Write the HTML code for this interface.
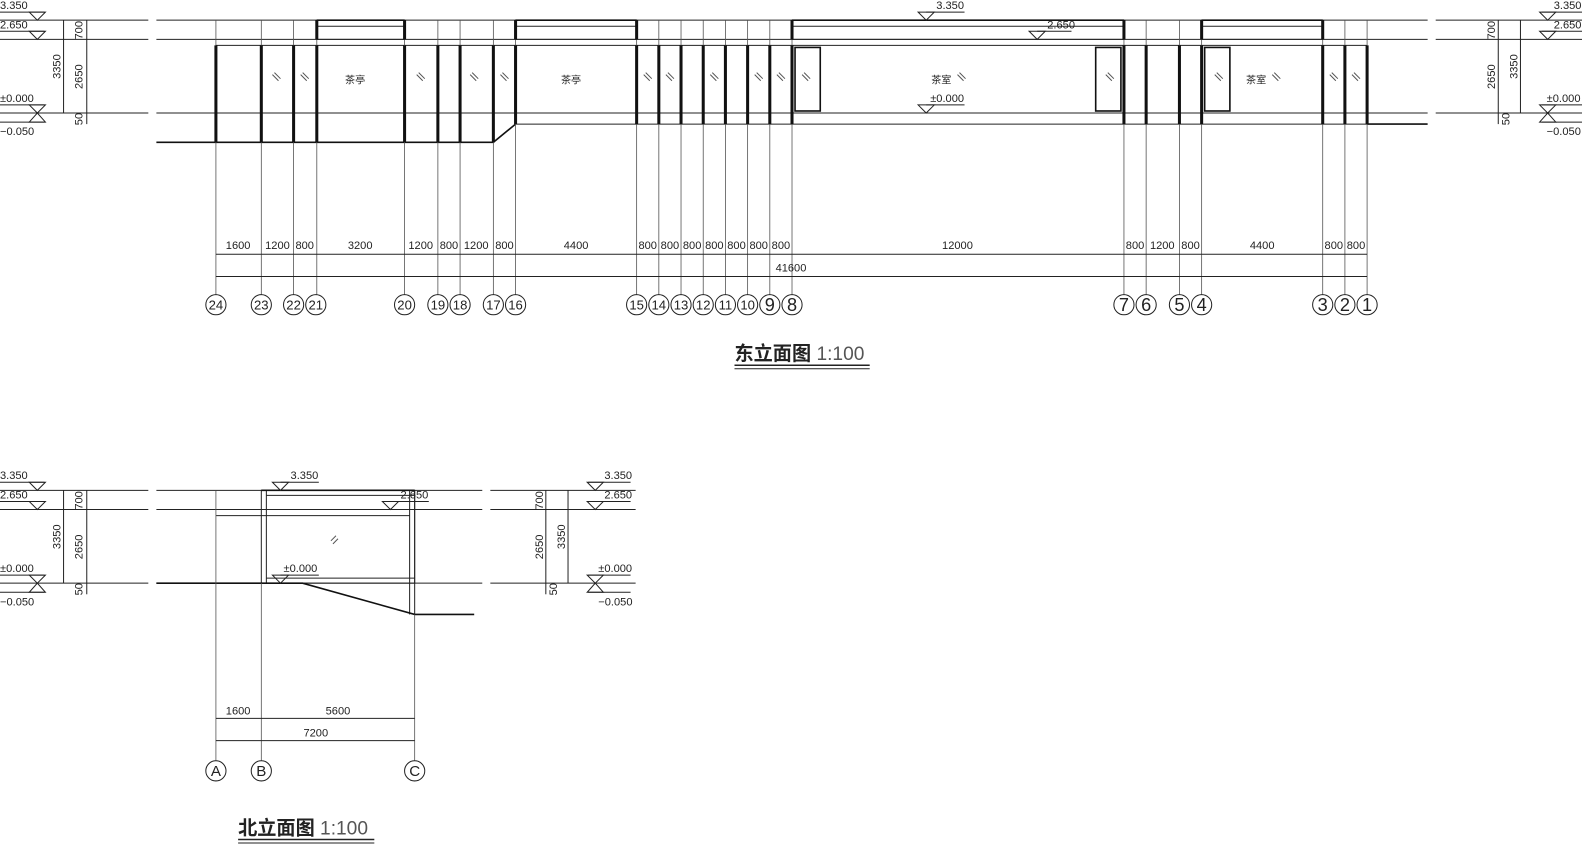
<!DOCTYPE html>
<html><head><meta charset="utf-8"><style>
html,body{margin:0;padding:0;background:#fff;}
svg{display:block}
text{font-family:"Liberation Sans Narrow","Liberation Sans","Noto Sans CJK SC",sans-serif;fill:#222}
.t{stroke:#222;stroke-width:1;fill:none}
.g{stroke:#555;stroke-width:0.8;fill:none}
.k{stroke:#111;stroke-width:3;fill:none}
.m{stroke:#111;stroke-width:1.6;fill:none}
.d{font-size:11px}
.h{stroke:#555;stroke-width:1}
</style></head><body>
<svg width="1582" height="844" viewBox="0 0 1568 836.5" preserveAspectRatio="none" xmlns="http://www.w3.org/2000/svg">
<g class="t">
<line x1="0" y1="20" x2="147" y2="20"/><line x1="155" y1="20" x2="1415" y2="20"/><line x1="1423" y1="20" x2="1568" y2="20"/>
<line x1="0" y1="39" x2="147" y2="39"/><line x1="155" y1="39" x2="1415" y2="39"/><line x1="1423" y1="39" x2="1568" y2="39"/>
<line x1="214" y1="45" x2="1355" y2="45"/>
<line x1="0" y1="112" x2="147" y2="112"/><line x1="155" y1="112" x2="1415" y2="112"/><line x1="1423" y1="112" x2="1568" y2="112"/>
<line x1="511" y1="123" x2="1355" y2="123"/>
</g>
<line class="m" x1="1355" y1="123" x2="1415" y2="123"/>
<polyline class="m" points="155,141 489,141 511,123"/>
<g class="g">
<line x1="214" y1="20" x2="214" y2="292"/><line x1="259" y1="20" x2="259" y2="292"/><line x1="291" y1="20" x2="291" y2="292"/><line x1="314" y1="20" x2="314" y2="292"/>
<line x1="401" y1="20" x2="401" y2="292"/><line x1="434" y1="20" x2="434" y2="292"/><line x1="456" y1="20" x2="456" y2="292"/><line x1="489" y1="20" x2="489" y2="292"/>
<line x1="511" y1="20" x2="511" y2="292"/><line x1="631" y1="20" x2="631" y2="292"/><line x1="653" y1="20" x2="653" y2="292"/><line x1="675" y1="20" x2="675" y2="292"/>
<line x1="697" y1="20" x2="697" y2="292"/><line x1="719" y1="20" x2="719" y2="292"/><line x1="741" y1="20" x2="741" y2="292"/><line x1="763" y1="20" x2="763" y2="292"/>
<line x1="785" y1="20" x2="785" y2="292"/><line x1="1114" y1="20" x2="1114" y2="292"/><line x1="1136" y1="20" x2="1136" y2="292"/><line x1="1169" y1="20" x2="1169" y2="292"/>
<line x1="1191" y1="20" x2="1191" y2="292"/><line x1="1311" y1="20" x2="1311" y2="292"/><line x1="1333" y1="20" x2="1333" y2="292"/><line x1="1355" y1="20" x2="1355" y2="292"/>
</g>
<g class="t">
<rect x="314" y="20" width="87" height="19"/><line x1="314" y1="26" x2="401" y2="26"/>
<rect x="511" y="20" width="120" height="19"/><line x1="511" y1="26" x2="631" y2="26"/>
<rect x="785" y="20" width="329" height="19"/><line x1="785" y1="26" x2="1114" y2="26"/>
<rect x="1191" y="20" width="120" height="19"/><line x1="1191" y1="26" x2="1311" y2="26"/>
</g>
<g class="m">
<line x1="314" y1="20" x2="401" y2="20"/><line x1="511" y1="20" x2="631" y2="20"/><line x1="785" y1="20" x2="1114" y2="20"/><line x1="1191" y1="20" x2="1311" y2="20"/></g>
<g class="k">
<line x1="314" y1="20" x2="314" y2="39"/><line x1="401" y1="20" x2="401" y2="39"/><line x1="511" y1="20" x2="511" y2="39"/><line x1="631" y1="20" x2="631" y2="39"/>
<line x1="785" y1="20" x2="785" y2="39"/><line x1="1114" y1="20" x2="1114" y2="39"/><line x1="1191" y1="20" x2="1191" y2="39"/><line x1="1311" y1="20" x2="1311" y2="39"/>
</g>
<g class="k">
<line x1="214" y1="45" x2="214" y2="141"/><line x1="259" y1="45" x2="259" y2="141"/><line x1="291" y1="45" x2="291" y2="141"/><line x1="314" y1="45" x2="314" y2="141"/>
<line x1="401" y1="45" x2="401" y2="141"/><line x1="434" y1="45" x2="434" y2="141"/><line x1="456" y1="45" x2="456" y2="141"/><line x1="489" y1="45" x2="489" y2="141"/>
<line x1="511" y1="45" x2="511" y2="123"/><line x1="631" y1="45" x2="631" y2="123"/><line x1="653" y1="45" x2="653" y2="123"/><line x1="675" y1="45" x2="675" y2="123"/>
<line x1="697" y1="45" x2="697" y2="123"/><line x1="719" y1="45" x2="719" y2="123"/><line x1="741" y1="45" x2="741" y2="123"/><line x1="763" y1="45" x2="763" y2="123"/>
<line x1="785" y1="45" x2="785" y2="123"/><line x1="1114" y1="45" x2="1114" y2="123"/><line x1="1136" y1="45" x2="1136" y2="123"/><line x1="1169" y1="45" x2="1169" y2="123"/>
<line x1="1191" y1="45" x2="1191" y2="123"/><line x1="1311" y1="45" x2="1311" y2="123"/><line x1="1333" y1="45" x2="1333" y2="123"/><line x1="1355" y1="45" x2="1355" y2="123"/>
</g>
<g class="m"><rect x="788" y="47" width="25" height="63"/><rect x="1086" y="47" width="25" height="63"/><rect x="1194" y="47" width="25" height="63"/></g>
<g class="h">
<path d="M270,74l6,6M272,72l6,6M298,74l6,6M300,72l6,6M413,74l6,6M415,72l6,6M466,74l6,6M468,72l6,6M496,74l6,6M498,72l6,6
M638,74l6,6M640,72l6,6M660,74l6,6M662,72l6,6M704,74l6,6M706,72l6,6M748,74l6,6M750,72l6,6M770,74l6,6M772,72l6,6M795,74l6,6M797,72l6,6
M949,74l6,6M951,72l6,6M1096,74l6,6M1098,72l6,6M1204,74l6,6M1206,72l6,6M1261,74l6,6M1263,72l6,6M1318,74l6,6M1320,72l6,6M1340,74l6,6M1342,72l6,6"/>
</g>
<g style="font-size:10px;fill:#444">
<text x="342" y="83">茶亭</text><text x="556" y="83">茶亭</text><text x="923" y="83">茶室</text><text x="1235" y="83">茶室</text>
</g>
<g class="t">
<path d="M910,12h16l-8,8z"/><line x1="918" y1="12" x2="956" y2="12"/>
<path d="M1020,31h16l-8,8z"/><line x1="1028" y1="31" x2="1062" y2="31"/>
<path d="M910,104h16l-8,8z"/><line x1="918" y1="104" x2="956" y2="104"/>
</g>
<text class="d" x="928" y="9">3.350</text><text class="d" x="1038" y="28">2.650</text><text class="d" x="922" y="101">±0.000</text>
<g class="t">
<line x1="0" y1="12" x2="44" y2="12"/><path d="M29,12h16l-8,8z"/>
<line x1="0" y1="31" x2="44" y2="31"/><path d="M29,31h16l-8,8z"/>
<line x1="0" y1="104" x2="44" y2="104"/><path d="M29,104h16l-8,8z"/>
<line x1="0" y1="121" x2="44" y2="121"/><path d="M29,121h16l-8,-9z"/>
<line x1="63" y1="20" x2="63" y2="112"/><line x1="86" y1="20" x2="86" y2="123"/>
</g>
<g class="d"><text x="0" y="9">3.350</text><text x="0" y="28">2.650</text><text x="0" y="101">±0.000</text><text x="0" y="134">−0.050</text>
<text transform="translate(60,66) rotate(-90)" text-anchor="middle">3350</text>
<text transform="translate(82,30) rotate(-90)" text-anchor="middle">700</text>
<text transform="translate(82,76) rotate(-90)" text-anchor="middle">2650</text>
<text transform="translate(82,118) rotate(-90)" text-anchor="middle">50</text></g>
<g class="t">
<line x1="1528" y1="12" x2="1568" y2="12"/><path d="M1526,12h16l-8,8z"/>
<line x1="1528" y1="31" x2="1568" y2="31"/><path d="M1526,31h16l-8,8z"/>
<line x1="1528" y1="104" x2="1568" y2="104"/><path d="M1526,104h16l-8,8z"/>
<line x1="1528" y1="121" x2="1568" y2="121"/><path d="M1526,121h16l-8,-9z"/>
<line x1="1485" y1="20" x2="1485" y2="123"/><line x1="1507" y1="20" x2="1507" y2="112"/>
</g>
<g class="d"><text x="1540" y="9">3.350</text><text x="1540" y="28">2.650</text><text x="1533" y="101">±0.000</text><text x="1533" y="134">−0.050</text>
<text transform="translate(1482,30) rotate(-90)" text-anchor="middle">700</text>
<text transform="translate(1482,76) rotate(-90)" text-anchor="middle">2650</text>
<text transform="translate(1504,66) rotate(-90)" text-anchor="middle">3350</text>
<text transform="translate(1496,118) rotate(-90)" text-anchor="middle">50</text></g>
<g class="t"><line x1="214" y1="252" x2="1355" y2="252"/><line x1="214" y1="274" x2="1355" y2="274"/></g>
<g class="d" text-anchor="middle">
<text x="236" y="247">1600</text><text x="275" y="247">1200</text><text x="302" y="247">800</text><text x="357" y="247">3200</text>
<text x="417" y="247">1200</text><text x="445" y="247">800</text><text x="472" y="247">1200</text><text x="500" y="247">800</text>
<text x="571" y="247">4400</text><text x="642" y="247">800</text><text x="664" y="247">800</text><text x="686" y="247">800</text>
<text x="708" y="247">800</text><text x="730" y="247">800</text><text x="752" y="247">800</text><text x="774" y="247">800</text>
<text x="949" y="247">12000</text><text x="1125" y="247">800</text><text x="1152" y="247">1200</text><text x="1180" y="247">800</text>
<text x="1251" y="247">4400</text><text x="1322" y="247">800</text><text x="1344" y="247">800</text>
<text x="784" y="269">41600</text></g>
<g class="t">
<circle cx="214" cy="302" r="10"/><circle cx="259" cy="302" r="10"/><circle cx="291" cy="302" r="10"/><circle cx="313" cy="302" r="10"/>
<circle cx="401" cy="302" r="10"/><circle cx="434" cy="302" r="10"/><circle cx="456" cy="302" r="10"/><circle cx="489" cy="302" r="10"/>
<circle cx="511" cy="302" r="10"/><circle cx="631" cy="302" r="10"/><circle cx="653" cy="302" r="10"/><circle cx="675" cy="302" r="10"/>
<circle cx="697" cy="302" r="10"/><circle cx="719" cy="302" r="10"/><circle cx="741" cy="302" r="10"/><circle cx="763" cy="302" r="10"/>
<circle cx="785" cy="302" r="10"/><circle cx="1114" cy="302" r="10"/><circle cx="1136" cy="302" r="10"/><circle cx="1169" cy="302" r="10"/>
<circle cx="1191" cy="302" r="10"/><circle cx="1311" cy="302" r="10"/><circle cx="1333" cy="302" r="10"/><circle cx="1355" cy="302" r="10"/>
</g>
<g style="font-size:13px;text-anchor:middle;font-family:'Liberation Sans',sans-serif">
<text x="214" y="307">24</text><text x="259" y="307">23</text><text x="291" y="307">22</text><text x="313" y="307">21</text>
<text x="401" y="307">20</text><text x="434" y="307">19</text><text x="456" y="307">18</text><text x="489" y="307">17</text>
<text x="511" y="307">16</text><text x="631" y="307">15</text><text x="653" y="307">14</text><text x="675" y="307">13</text>
<text x="697" y="307">12</text><text x="719" y="307">11</text><text x="741" y="307">10</text>
<text x="763" y="308" style="font-size:18px">9</text><text x="785" y="308" style="font-size:18px">8</text><text x="1114" y="308" style="font-size:18px">7</text><text x="1136" y="308" style="font-size:18px">6</text>
<text x="1169" y="308" style="font-size:18px">5</text><text x="1191" y="308" style="font-size:18px">4</text><text x="1311" y="308" style="font-size:18px">3</text><text x="1333" y="308" style="font-size:18px">2</text><text x="1355" y="308" style="font-size:18px">1</text>
</g>
<text x="728" y="357" style="font-size:19px;font-family:'Liberation Sans','Noto Sans CJK SC',sans-serif;font-weight:bold">东立面图 <tspan style="font-weight:normal;fill:#555">1:100</tspan></text>
<g class="t"><line x1="728" y1="362" x2="862" y2="362" stroke-width="1.5"/><line x1="728" y1="365.5" x2="862" y2="365.5"/></g>

<g class="t">
<line x1="0" y1="486" x2="147" y2="486"/><line x1="155" y1="486" x2="478" y2="486"/><line x1="486" y1="486" x2="630" y2="486"/>
<line x1="0" y1="505" x2="147" y2="505"/><line x1="155" y1="505" x2="478" y2="505"/><line x1="486" y1="505" x2="630" y2="505"/>
<line x1="0" y1="578" x2="147" y2="578"/><line x1="155" y1="578" x2="478" y2="578"/><line x1="486" y1="578" x2="630" y2="578"/>
<line x1="214" y1="511" x2="406" y2="511"/><line x1="264" y1="491" x2="411" y2="491"/><line x1="264" y1="573" x2="411" y2="573"/>
<rect x="259" y="486" width="152" height="92"/>
<line x1="264" y1="486" x2="264" y2="578"/><line x1="406" y1="486" x2="406" y2="609"/><line x1="411" y1="486" x2="411" y2="609"/>
</g>
<line class="m" x1="259" y1="486" x2="411" y2="486"/>
<polyline class="m" points="155,578 300,578 411,609 470,609"/>
<g class="g"><line x1="214" y1="486" x2="214" y2="754"/><line x1="259" y1="578" x2="259" y2="754"/><line x1="411" y1="609" x2="411" y2="754"/></g>
<path class="h" d="M328,536l5,-5M330,539l5,-5"/>
<g class="t">
<path d="M270,478h16l-8,8z"/><line x1="278" y1="478" x2="316" y2="478"/>
<path d="M379,497h16l-8,8z"/><line x1="387" y1="497" x2="425" y2="497"/>
<path d="M270,570h16l-8,8z"/><line x1="278" y1="570" x2="316" y2="570"/>
</g>
<text class="d" x="288" y="475">3.350</text><text class="d" x="397" y="494">2.650</text><text class="d" x="281" y="567">±0.000</text>
<g class="t">
<line x1="0" y1="478" x2="44" y2="478"/><path d="M29,478h16l-8,8z"/>
<line x1="0" y1="497" x2="44" y2="497"/><path d="M29,497h16l-8,8z"/>
<line x1="0" y1="570" x2="44" y2="570"/><path d="M29,570h16l-8,8z"/>
<line x1="0" y1="587" x2="44" y2="587"/><path d="M29,587h16l-8,-9z"/>
<line x1="63" y1="486" x2="63" y2="578"/><line x1="86" y1="486" x2="86" y2="589"/>
</g>
<g class="d"><text x="0" y="475">3.350</text><text x="0" y="494">2.650</text><text x="0" y="567">±0.000</text><text x="0" y="600">−0.050</text>
<text transform="translate(60,532) rotate(-90)" text-anchor="middle">3350</text>
<text transform="translate(82,496) rotate(-90)" text-anchor="middle">700</text>
<text transform="translate(82,542) rotate(-90)" text-anchor="middle">2650</text>
<text transform="translate(82,584) rotate(-90)" text-anchor="middle">50</text></g>
<g class="t">
<line x1="583" y1="478" x2="625" y2="478"/><path d="M582,478h16l-8,8z"/>
<line x1="583" y1="497" x2="625" y2="497"/><path d="M582,497h16l-8,8z"/>
<line x1="583" y1="570" x2="625" y2="570"/><path d="M582,570h16l-8,8z"/>
<line x1="583" y1="587" x2="625" y2="587"/><path d="M582,587h16l-8,-9z"/>
<line x1="541" y1="486" x2="541" y2="589"/><line x1="563" y1="486" x2="563" y2="578"/>
</g>
<g class="d"><text x="599" y="475">3.350</text><text x="599" y="494">2.650</text><text x="593" y="567">±0.000</text><text x="593" y="600">−0.050</text>
<text transform="translate(538,496) rotate(-90)" text-anchor="middle">700</text>
<text transform="translate(538,542) rotate(-90)" text-anchor="middle">2650</text>
<text transform="translate(560,532) rotate(-90)" text-anchor="middle">3350</text>
<text transform="translate(552,584) rotate(-90)" text-anchor="middle">50</text></g>
<g class="t"><line x1="214" y1="712" x2="411" y2="712"/><line x1="214" y1="734" x2="411" y2="734"/></g>
<g class="d" text-anchor="middle"><text x="236" y="708">1600</text><text x="335" y="708">5600</text><text x="313" y="730">7200</text></g>
<g class="t"><circle cx="214" cy="764" r="10"/><circle cx="259" cy="764" r="10"/><circle cx="411" cy="764" r="10"/></g>
<g style="font-size:15px;text-anchor:middle;font-family:'Liberation Serif',serif"><text x="214" y="769">A</text><text x="259" y="769">B</text><text x="411" y="769">C</text></g>
<text x="236" y="827" style="font-size:19px;font-family:'Liberation Sans','Noto Sans CJK SC',sans-serif;font-weight:bold">北立面图 <tspan style="font-weight:normal;fill:#555">1:100</tspan></text>
<g class="t"><line x1="236" y1="832" x2="371" y2="832" stroke-width="1.5"/><line x1="236" y1="835.5" x2="371" y2="835.5"/></g>
</svg>
</body></html>
